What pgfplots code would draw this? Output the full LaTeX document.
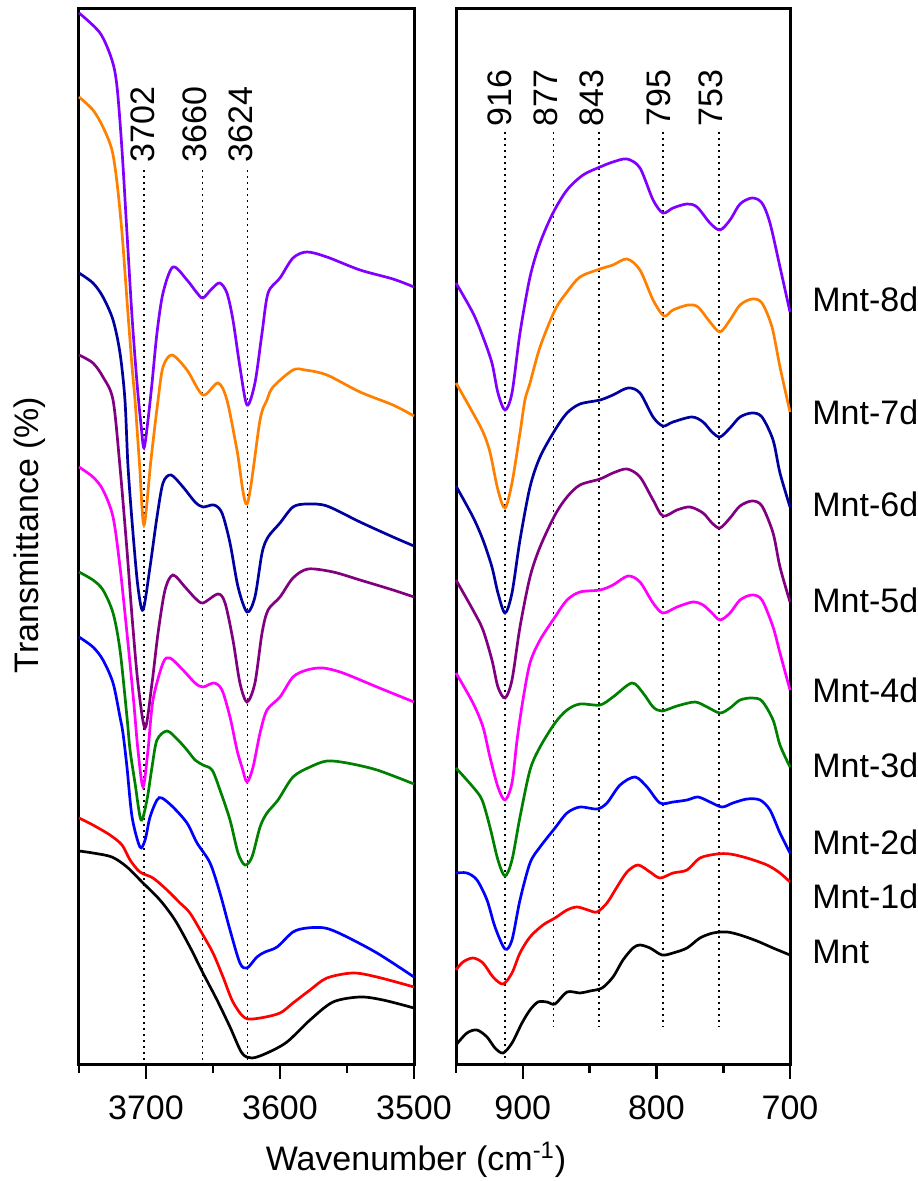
\documentclass[border=0pt]{standalone}
\usepackage{fontspec}
\setmainfont{Liberation Sans}
\usepackage{pgfplots}
\pgfplotsset{compat=1.18}

\definecolor{cviolet}{RGB}{128,0,255}
\definecolor{corange}{RGB}{255,128,0}
\definecolor{cnavy}{RGB}{0,0,160}
\definecolor{cpurple}{RGB}{128,0,128}
\definecolor{cmagenta}{RGB}{255,0,255}
\definecolor{cgreen}{RGB}{0,128,0}
\definecolor{cblue}{RGB}{0,0,255}
\definecolor{cred}{RGB}{255,0,0}

\newcommand{\bigfont}{\fontsize{17}{20}\selectfont}

\pgfplotsset{
  panel/.style={
    scale only axis,
    height=528pt,
    ymin=0, ymax=1056,
    x dir=reverse,
    ytick=\empty,
    axis line style={line width=1.5pt},
    tick align=outside,
    xtick pos=bottom,
    major tick length=7pt,
    minor tick length=4pt,
    tick style={line width=1.3pt, black},
    ticklabel style={font=\bigfont},
    xticklabel style={yshift=-5pt},
    clip=false,
    every axis plot/.append style={line width=1.35pt, smooth, tension=0.5},
  },
  mark line/.style={black, line width=0.8pt, dash pattern=on 0.8pt off 2.2pt, sharp plot},
}

\begin{document}
\begin{tikzpicture}
\useasboundingbox (-39.5pt,-58pt) rectangle (419pt,532.5pt);

% ---------------- left panel: OH stretching region
\begin{axis}[panel, width=167.5pt,
  xmin=3500, xmax=3750,
  xtick={3700,3600,3500}, xticklabels={3700,3600,3500},
  minor xtick={3750,3650,3550}]

\addplot[mark line] coordinates {(3701.3,895)(3701.3,2)};
\addplot[mark line] coordinates {(3657.7,895)(3657.7,2)};
\addplot[mark line] coordinates {(3624.4,895)(3624.4,2)};

% Mnt-8d
\addplot[cviolet] coordinates {
(3750,1052)(3734.3,1032)(3725.4,1005)(3721.6,978)(3717.9,915)(3714.2,832)(3710.4,748)
(3706.7,682)(3703.7,640)(3701.5,617)(3698.5,645)(3695.5,682)(3691.8,732)(3687.3,772)
(3679.9,798)(3669.4,785)(3661.9,772)(3657.5,767)(3651.0,776)(3645.0,782)(3639.6,772)
(3635.1,745)(3629.9,698)(3624.6,660)(3618.7,682)(3613.4,732)(3608.9,772)(3600.0,787)
(3590.3,807)(3579.9,813)(3565.0,808)(3540.3,795)(3515.7,786)(3500,778)};
% Mnt-7d
\addplot[corange] coordinates {
(3750,968)(3739.6,955)(3732.1,938)(3725.4,915)(3721.6,882)(3717.9,832)(3714.2,765)
(3710.4,698)(3708.2,665)(3704.8,600)(3701.5,540)(3696.3,605)(3691.0,665)(3687.3,698)
(3680.6,710)(3669.4,695)(3657.5,670)(3646.3,682)(3639.6,665)(3632.1,615)(3624.6,561)
(3614.9,645)(3609.7,665)(3605.2,678)(3590.3,695)(3581.3,695)(3565.0,690)(3540.3,673)
(3515.7,660)(3500,649)};
% Mnt-6d
\addplot[cnavy] coordinates {
(3750,792)(3739.6,782)(3732.1,768)(3724.6,745)(3719.4,712)(3715.7,665)(3713.4,598)
(3709.7,532)(3706.0,478)(3702.2,455)(3697.0,498)(3691.8,548)(3687.3,582)(3681.3,590)
(3672.4,578)(3663.4,563)(3657.5,558)(3649.3,560)(3643.3,552)(3637.3,522)(3631.3,478)
(3624.6,453)(3618.7,468)(3613.4,512)(3608.9,528)(3600.0,542)(3590.3,558)(3579.9,561)
(3565.0,559)(3540.3,543)(3515.7,528)(3500,519)};
% Mnt-5d
\addplot[cpurple] coordinates {
(3750,710)(3739.6,702)(3732.1,688)(3724.6,665)(3719.4,598)(3714.2,515)(3710.4,448)
(3706.0,382)(3700.7,337)(3695.5,382)(3691.0,432)(3685.8,475)(3679.9,490)(3670.9,478)
(3663.4,467)(3657.5,462)(3646.3,471)(3641.0,462)(3635.1,425)(3629.9,382)(3624.6,363)
(3618.7,382)(3613.4,432)(3608.9,455)(3600.0,468)(3590.3,487)(3579.1,496)(3560.4,493)
(3540.3,485)(3515.7,475)(3500,468)};
% Mnt-4d
\addplot[cmagenta] coordinates {
(3750,598)(3739.6,588)(3732.1,575)(3724.6,548)(3719.4,498)(3714.2,432)(3709.3,365)
(3706.0,315)(3702.2,278)(3698.5,315)(3694.8,365)(3687.3,402)(3682.1,407)(3672.4,395)
(3663.4,382)(3657.5,378)(3649.3,382)(3643.3,375)(3637.3,348)(3632.1,315)(3628.4,298)
(3624.6,283)(3620.1,298)(3614.9,332)(3609.7,355)(3600.0,368)(3590.3,388)(3579.9,395)
(3567.9,397)(3553.0,392)(3527.6,378)(3500,363)};
% Mnt-3d
\addplot[cgreen] coordinates {
(3750,493)(3739.6,485)(3732.1,475)(3724.6,452)(3719.4,415)(3714.2,348)(3711.9,315)
(3708.2,282)(3703.7,245)(3699.3,265)(3695.5,298)(3691.8,325)(3684.3,334)(3676.1,325)
(3669.4,315)(3663.4,305)(3657.5,300)(3650.7,295)(3644.8,275)(3637.3,245)(3631.3,212)
(3626.1,200)(3620.9,208)(3614.9,238)(3609.7,252)(3601.5,265)(3590.3,288)(3577.6,298)
(3565.0,304)(3550.0,302)(3527.6,295)(3500,281)};
% Mnt-2d
\addplot[cblue] coordinates {
(3750,428)(3739.6,418)(3732.1,405)(3724.6,382)(3719.4,348)(3717.2,332)(3714.2,298)
(3710.4,248)(3704.5,218)(3700.7,225)(3697.0,248)(3691.8,265)(3688.1,267)(3679.9,258)
(3669.4,242)(3661.9,222)(3652.2,202)(3644.8,172)(3637.3,135)(3629.9,102)(3624.6,97)
(3617.2,108)(3611.2,113)(3602.2,118)(3590.3,133)(3579.9,137)(3566.4,137)(3553.0,130)
(3527.6,112)(3500,88)};
% Mnt-1d
\addplot[cred] coordinates {
(3750,247)(3739.6,240)(3726.9,230)(3717.9,220)(3711.9,205)(3704.5,193)(3694.8,187)
(3684.3,175)(3674.6,162)(3667.2,152)(3657.5,130)(3650.0,112)(3642.5,88)(3635.1,63)
(3626.1,47)(3614.9,47)(3600.0,52)(3590.3,62)(3577.6,75)(3565.0,87)(3545.5,92)
(3527.6,88)(3500,78)};
% Mnt
\addplot[black] coordinates {
(3750,214)(3739.6,212)(3725.4,208)(3714.2,198)(3702.2,182)(3689.6,165)(3678.4,145)
(3667.2,118)(3657.5,92)(3647.0,65)(3637.3,38)(3628.4,12)(3620.9,7)(3609.7,12)
(3594.8,23)(3577.6,45)(3560.4,63)(3540.3,68)(3523.1,65)(3500,57)};

\node[rotate=90, anchor=west, inner sep=0pt, font=\bigfont] at (axis cs:3702.6,902) {3702};
\node[rotate=90, anchor=west, inner sep=0pt, font=\bigfont] at (axis cs:3663.8,902) {3660};
\node[rotate=90, anchor=west, inner sep=0pt, font=\bigfont] at (axis cs:3629.5,902) {3624};
\end{axis}

% ---------------- right panel: lattice region
\begin{axis}[panel, at={(188.5pt,0pt)}, width=167pt,
  xmin=700, xmax=950,
  xtick={900,800,700}, xticklabels={900,800,700},
  minor xtick={950,850,750}]

\addplot[mark line] coordinates {(913.5,933)(913.5,3)};
\addplot[mark line] coordinates {(877,933)(877,38)};
\addplot[mark line] coordinates {(843,933)(843,38)};
\addplot[mark line] coordinates {(795,933)(795,38)};
\addplot[mark line] coordinates {(753,933)(753,38)};

% Mnt-8d
\addplot[cviolet] coordinates {
(950,782)(937.3,752)(929.8,728)(923.1,702)(918.6,672)(913.3,655)(908.1,672)(902.1,732)
(894.6,788)(887.1,822)(877.4,852)(866.9,875)(854.9,890)(842.2,898)(832.5,903)(822.0,906)
(812.3,897)(802.5,865)(795.1,852)(787.6,857)(777.1,861)(769.6,858)(759.9,842)(752.4,835)
(744.9,845)(737.4,861)(728.4,867)(721.0,862)(715.0,842)(707.5,798)(700,753)};
% Mnt-7d
\addplot[corange] coordinates {
(950,682)(937.3,652)(929.8,633)(924.6,613)(918.6,575)(913.3,557)(908.1,582)(902.1,632)
(898.4,665)(894.6,682)(887.1,718)(875.9,755)(866.9,773)(857.2,788)(842.2,796)(832.5,800)
(822.0,806)(812.3,795)(802.5,765)(794.3,749)(787.6,755)(776.3,760)(768.9,758)(759.9,743)
(752.4,733)(744.9,745)(737.4,760)(728.4,766)(721.0,762)(713.5,738)(707.5,698)(700,653)};
% Mnt-6d
\addplot[cnavy] coordinates {
(950,579)(937.3,548)(929.8,525)(923.1,498)(918.6,472)(913.3,452)(908.1,472)(902.1,525)
(894.6,578)(887.1,608)(875.9,635)(866.9,652)(857.2,661)(842.2,665)(832.5,670)(821.3,677)
(812.3,672)(802.5,648)(795.1,639)(787.6,643)(773.4,648)(765.1,643)(758.4,633)(752.4,628)
(744.9,637)(737.4,648)(728.4,652)(721.0,648)(712.7,625)(707.5,592)(700,558)};
% Mnt-5d
\addplot[cpurple] coordinates {
(950,485)(937.3,455)(929.8,435)(923.1,405)(918.6,378)(913.3,367)(908.1,385)(902.1,438)
(894.6,488)(887.1,518)(875.9,550)(866.9,568)(857.2,580)(842.2,586)(832.5,592)(822.0,596)
(812.3,588)(802.5,565)(795.1,549)(784.6,555)(774.9,558)(765.1,552)(758.4,542)(752.4,537)
(744.9,547)(737.4,559)(728.4,564)(721.0,559)(712.7,532)(707.5,498)(700,463)};
% Mnt-4d
\addplot[cmagenta] coordinates {
(950,392)(937.3,362)(929.8,338)(924.6,308)(918.6,278)(913.3,265)(908.1,282)(904.3,325)
(899.9,365)(894.6,402)(887.1,425)(875.9,448)(866.9,465)(857.2,473)(842.2,475)(832.5,480)
(821.3,489)(812.3,483)(802.5,462)(795.1,452)(784.6,458)(772.7,463)(765.1,460)(758.4,452)
(752.4,445)(744.9,452)(737.4,465)(728.4,470)(721.0,465)(712.7,438)(707.5,412)(700,375)};
% Mnt-3d
\addplot[cgreen] coordinates {
(950,297)(937.3,278)(930.5,265)(924.6,238)(918.6,205)(913.3,189)(908.1,205)(902.1,248)
(894.6,295)(887.1,318)(875.9,342)(866.9,355)(857.2,361)(842.2,360)(832.5,368)(818.3,382)
(810.0,372)(802.5,358)(795.8,354)(784.6,359)(771.1,363)(762.1,358)(752.4,352)(744.9,357)
(737.4,365)(728.4,367)(721.0,364)(712.7,345)(707.5,320)(700,298)};
% Mnt-2d
\addplot[cblue] coordinates {
(950,192)(941.8,192)(934.3,185)(926.8,165)(920.8,138)(913.3,116)(908.1,125)(902.1,165)
(894.6,202)(887.1,218)(875.9,237)(866.9,252)(857.2,258)(844.5,256)(837.0,262)(827.2,280)
(816.0,288)(807.0,278)(797.3,262)(787.6,263)(777.1,265)(768.9,268)(759.9,263)(750.9,258)
(742.7,262)(732.2,266)(722.5,265)(715.0,255)(707.5,232)(700,212)};
% Mnt-1d
\addplot[cred] coordinates {
(950,95)(944.8,103)(937.3,107)(929.8,102)(922.3,88)(914.8,81)(908.1,92)(902.1,112)
(894.6,128)(884.9,140)(875.9,147)(866.9,155)(859.4,158)(851.2,155)(844.5,153)(837.0,162)
(829.5,178)(822.0,193)(813.8,200)(804.8,193)(797.3,187)(787.6,192)(777.1,195)(767.4,207)
(754.6,211)(744.9,211)(732.2,207)(717.2,200)(707.5,192)(700,183)};
% Mnt
\addplot[black] coordinates {
(950,20)(941.8,32)(934.3,35)(926.8,28)(920.8,17)(914.8,12)(908.1,22)(900.6,42)
(894.6,55)(888.6,63)(881.9,63)(875.9,61)(866.9,73)(857.2,72)(849.7,74)(840.7,77)
(832.5,88)(825.0,105)(817.5,117)(812.3,120)(804.8,117)(795.8,110)(787.6,112)(777.1,117)
(767.4,127)(757.6,132)(747.2,133)(737.4,130)(724.7,124)(712.7,117)(700,110)};

\node[rotate=90, anchor=west, inner sep=0pt, font=\bigfont] at (axis cs:917.4,938) {916};
\node[rotate=90, anchor=west, inner sep=0pt, font=\bigfont] at (axis cs:882.6,938) {877};
\node[rotate=90, anchor=west, inner sep=0pt, font=\bigfont] at (axis cs:848.2,938) {843};
\node[rotate=90, anchor=west, inner sep=0pt, font=\bigfont] at (axis cs:798.1,938) {795};
\node[rotate=90, anchor=west, inner sep=0pt, font=\bigfont] at (axis cs:759.1,938) {753};

\node[anchor=west, inner sep=0pt, xshift=11pt, font=\bigfont] at (axis cs:700,766) {Mnt-8d};
\node[anchor=west, inner sep=0pt, xshift=11pt, font=\bigfont] at (axis cs:700,653) {Mnt-7d};
\node[anchor=west, inner sep=0pt, xshift=11pt, font=\bigfont] at (axis cs:700,561) {Mnt-6d};
\node[anchor=west, inner sep=0pt, xshift=11pt, font=\bigfont] at (axis cs:700,465) {Mnt-5d};
\node[anchor=west, inner sep=0pt, xshift=11pt, font=\bigfont] at (axis cs:700,375) {Mnt-4d};
\node[anchor=west, inner sep=0pt, xshift=11pt, font=\bigfont] at (axis cs:700,300) {Mnt-3d};
\node[anchor=west, inner sep=0pt, xshift=11pt, font=\bigfont] at (axis cs:700,223) {Mnt-2d};
\node[anchor=west, inner sep=0pt, xshift=11pt, font=\bigfont] at (axis cs:700,169) {Mnt-1d};
\node[anchor=west, inner sep=0pt, xshift=11pt, font=\bigfont] at (axis cs:700,113) {Mnt};
\end{axis}

\node[rotate=90, font=\bigfont] at (-24.5pt,265pt) {Transmittance (\%)};
\node[font=\bigfont] at (168.5pt,-47.5pt) {Wavenumber (cm\textsuperscript{-1})};
\end{tikzpicture}
\end{document}
